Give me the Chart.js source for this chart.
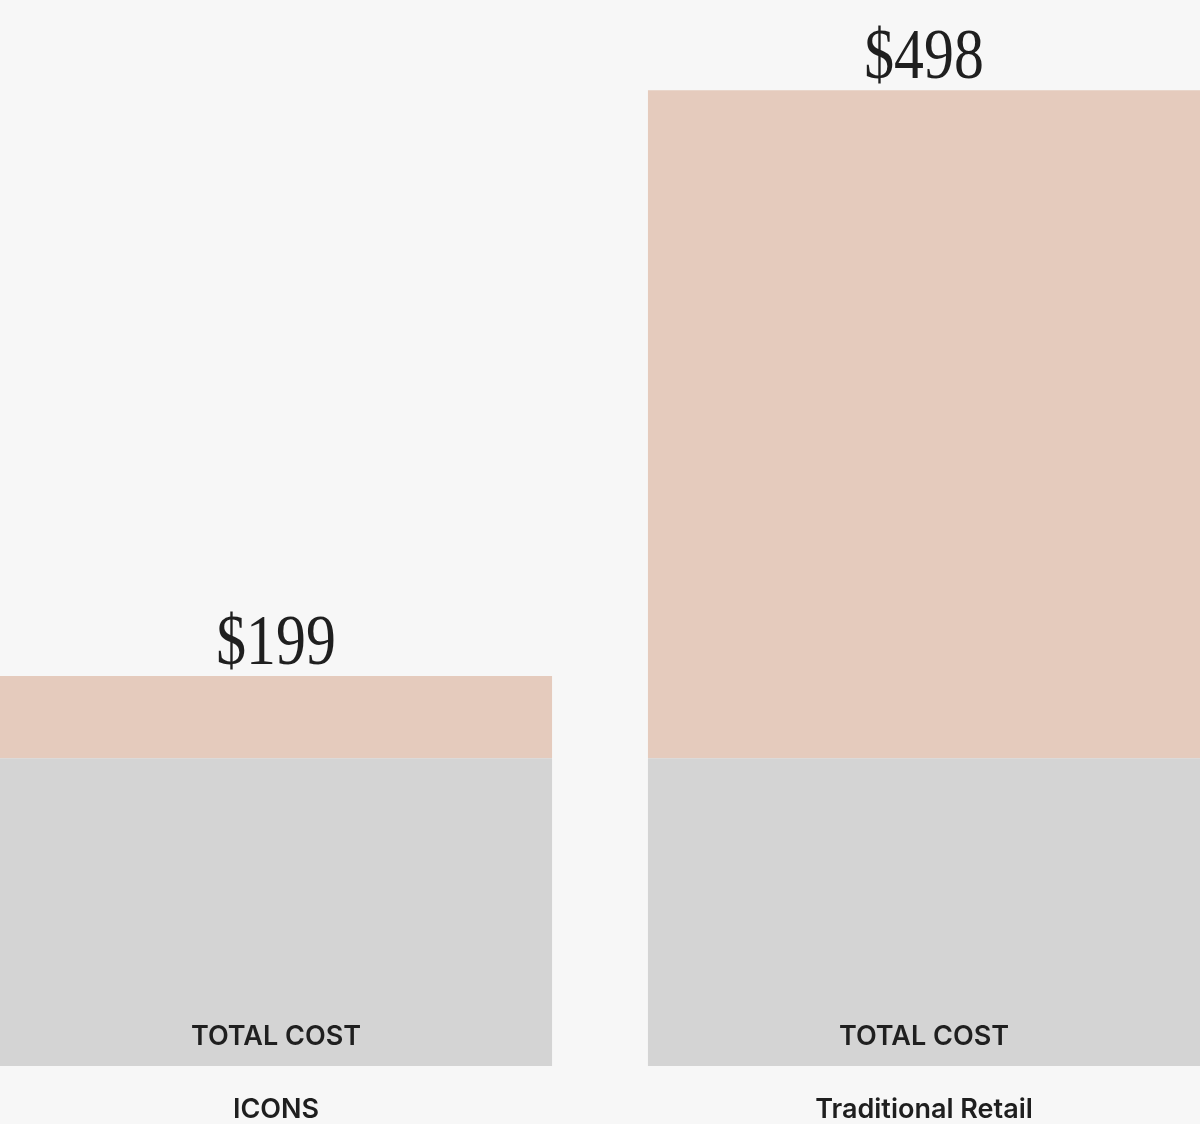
<!DOCTYPE html>
<html>
<head>
<meta charset="utf-8">
<title>Total cost comparison</title>
<script src="https://cdn.jsdelivr.net/npm/chart.js@4.4.1/dist/chart.umd.min.js"></script>
<style>
  html, body {
    margin: 0;
    padding: 0;
    background: #f7f7f7;
    overflow: hidden;
  }
  .chart-wrap {
    position: absolute;
    left: -48px;
    top: 0;
    width: 1296px;
    height: 1124px;
  }
</style>
</head>
<body>
<div class="chart-wrap">
  <canvas id="cost-chart"></canvas>
</div>
<script>
// Cost comparison: ICONS vs traditional retail
const categories = ['ICONS', 'Traditional Retail'];
const baseCost = [157, 157];
const extraCost = [42, 341];
const totalCost = [199, 498];
const segmentLabel = 'TOTAL COST';

const PEACH = '#e5cbbd';
const GREY = '#d4d4d4';
const INK = '#1f1f1f';

const barLabels = {
  id: 'barLabels',
  afterDatasetsDraw(chart) {
    const { ctx, chartArea } = chart;
    const baseMeta = chart.getDatasetMeta(0);
    const topMeta = chart.getDatasetMeta(1);

    ctx.save();
    ctx.fillStyle = INK;
    ctx.textAlign = 'center';
    ctx.textBaseline = 'alphabetic';

    topMeta.data.forEach((bar, i) => {
      // serif price above each stack, a bit condensed
      ctx.save();
      ctx.translate(bar.x, bar.y - 12);
      ctx.scale(0.83, 1);
      ctx.font = '72px "Liberation Serif", serif';
      ctx.fillText(`$${totalCost[i]}`, 0, 0);
      ctx.restore();
    });

    ctx.font = '600 27px Inter, "Noto Sans", sans-serif';
    baseMeta.data.forEach((bar) => {
      ctx.fillText(segmentLabel, bar.x, chartArea.bottom - 21);
    });
    ctx.restore();
  }
};

new Chart(document.getElementById('cost-chart'), {
  type: 'bar',
  data: {
    labels: categories,
    datasets: [
      {
        label: 'Base',
        data: baseCost,
        backgroundColor: GREY,
        borderWidth: 0,
        barPercentage: 0.852,
        categoryPercentage: 1
      },
      {
        label: 'Extra',
        data: extraCost,
        backgroundColor: PEACH,
        borderWidth: 0,
        barPercentage: 0.852,
        categoryPercentage: 1
      }
    ]
  },
  options: {
    responsive: true,
    maintainAspectRatio: false,
    animation: false,
    layout: { padding: 0 },
    plugins: {
      legend: { display: false },
      tooltip: { enabled: false }
    },
    scales: {
      x: {
        stacked: true,
        grid: { display: false },
        border: { display: false },
        ticks: {
          color: INK,
          padding: 20,
          font: { family: 'Inter, "Noto Sans", sans-serif', size: 27, weight: '600' }
        },
        afterFit: (scale) => { scale.height = 58; }
      },
      y: {
        stacked: true,
        display: false,
        min: 0,
        max: 544
      }
    }
  },
  plugins: [barLabels]
});
</script>
</body>
</html>
